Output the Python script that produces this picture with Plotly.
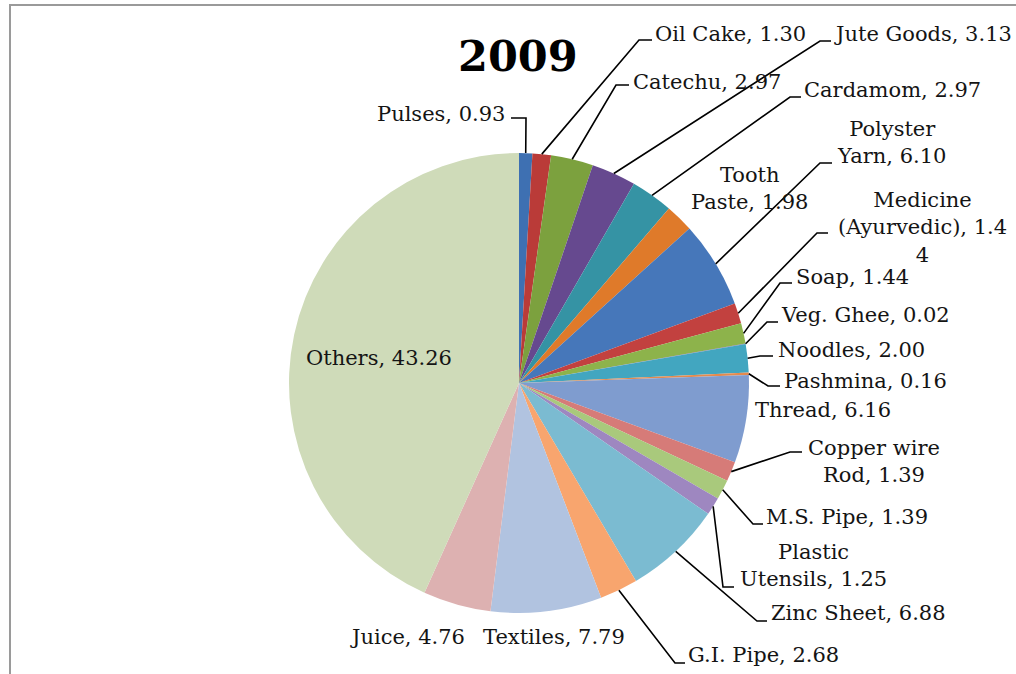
import math
import plotly.graph_objects as go

# ---------------- data ----------------
labels = ["Pulses", "Oil Cake", "Catechu", "Jute Goods", "Cardamom", "Tooth Paste",
          "Polyster Yarn", "Medicine (Ayurvedic)", "Soap", "Veg. Ghee", "Noodles",
          "Pashmina", "Thread", "Copper wire Rod", "M.S. Pipe", "Plastic Utensils",
          "Zinc Sheet", "G.I. Pipe", "Textiles", "Juice", "Others"]
values = [0.93, 1.30, 2.97, 3.13, 2.97, 1.98, 6.10, 1.44, 1.44, 0.02, 2.00,
          0.16, 6.16, 1.39, 1.39, 1.25, 6.88, 2.68, 7.79, 4.76, 43.26]
title_text = "2009"

# ---------------- style ----------------
colors = ["#3E70B2", "#BA3B38", "#7CA13E", "#66498F", "#3593A4", "#DF7A2A",
          "#4677BA", "#C2413F", "#8DB34B", "#7E62A2", "#42A6C0", "#E58A4D",
          "#7F9CCF", "#D67B78", "#A9C97C", "#9E87C0", "#7BBBD1", "#F8A56E",
          "#B1C3E0", "#DDB1B1", "#CFDBB9"]

W, H = 1016, 674
CX, CY, R = 519, 383, 230
FONT = "DejaVu Serif"
FS = 21

# label wrapping (display only)
wrap = {"Tooth Paste": "Tooth<br>Paste", "Polyster Yarn": "Polyster<br>Yarn",
        "Copper wire Rod": "Copper wire<br>Rod", "Plastic Utensils": "Plastic<br>Utensils"}

# label layout in pixels: (text x, text y, xanchor, elbow point, horizontal end)
layout_px = {
    "Pulses": (507, 114, "right", (526, 118), (511, 118)),
    "Oil Cake": (653, 34, "left", (639, 40), (652, 40)),
    "Catechu": (631, 82, "left", (616, 85), (629, 85)),
    "Jute Goods": (832, 34, "left", (820, 41), (831, 41)),
    "Cardamom": (802, 90, "left", (790, 97), (801, 97)),
    "Tooth Paste": (749, 188, "center", None, None),
    "Polyster Yarn": (891, 142, "center", (820, 163), (832, 163)),
    "Medicine (Ayurvedic)": (922, 227, "center", (817, 233), (828, 233)),
    "Soap": (794, 277, "left", (780, 283), (792, 283)),
    "Veg. Ghee": (779, 315, "left", (767, 322), (778, 322)),
    "Noodles": (776, 350, "left", (760, 356), (773, 356)),
    "Pashmina": (782, 381, "left", (768, 386), (780, 386)),
    "Thread": (823, 410, "center", None, None),
    "Copper wire Rod": (874, 461, "center", (790, 452), (802, 452)),
    "M.S. Pipe": (764, 517, "left", (753, 524), (763, 524)),
    "Plastic Utensils": (813, 565, "center", (723, 587), (734, 587)),
    "Zinc Sheet": (769, 613, "left", (757, 621), (767, 621)),
    "G.I. Pipe": (686, 655, "left", (675, 663), (685, 663)),
    "Textiles": (554, 637, "center", None, None),
    "Juice": (407, 637, "center", None, None),
    "Others": (379, 358, "center", None, None),
}


def px(x):
    return x / W


def py(y):
    return 1 - y / H


fig = go.Figure(go.Pie(
    labels=labels, values=values, sort=False, direction="clockwise", rotation=0,
    marker=dict(colors=colors, line=dict(width=0)),
    textinfo="none", hoverinfo="label+value", showlegend=False,
    domain=dict(x=[px(CX - R), px(CX + R)], y=[py(CY + R), py(CY - R)]),
))

annotations = []
shapes = []
total = sum(values)
cum = 0.0
for lab, val in zip(labels, values):
    mid = (cum + val / 2) / total * 2 * math.pi
    cum += val
    ax = CX + R * math.sin(mid)
    ay = CY - R * math.cos(mid)
    tx, ty, anchor, elbow, hend = layout_px[lab]
    name = wrap.get(lab, lab)
    txt = f"{name}, {val:.2f}"
    if lab == "Medicine (Ayurvedic)":
        txt = "Medicine<br>(Ayurvedic), " + f"{val:.2f}"[:-1] + "<br>" + f"{val:.2f}"[-1]
    annotations.append(dict(
        x=px(tx), y=py(ty), xref="paper", yref="paper", text=txt, showarrow=False,
        xanchor=anchor, yanchor="middle", align="center",
        font=dict(family=FONT, size=FS, color="#141414")))
    if elbow is not None:
        path = (f"M {px(ax)},{py(ay)} L {px(elbow[0])},{py(elbow[1])} "
                f"L {px(hend[0])},{py(hend[1])}")
        shapes.append(dict(type="path", xref="paper", yref="paper", path=path,
                           line=dict(color="black", width=1.6)))

annotations.append(dict(x=px(518), y=py(56), xref="paper", yref="paper",
                        text=f"<b>{title_text}</b>", showarrow=False,
                        xanchor="center", yanchor="middle",
                        font=dict(family=FONT, size=43, color="black")))

# chart-area frame
shapes.append(dict(type="rect", xref="paper", yref="paper",
                   x0=px(10), y0=-0.05, x1=1.05, y1=py(5),
                   line=dict(color="#9a9a9a", width=2), fillcolor="rgba(0,0,0,0)"))

fig.update_layout(
    width=W, height=H, margin=dict(l=0, r=0, t=0, b=0),
    paper_bgcolor="white", plot_bgcolor="white",
    annotations=annotations, shapes=shapes,
)

fig.write_html("out.html", config={"displayModeBar": False},
               post_script="document.body.style.margin='0';")
